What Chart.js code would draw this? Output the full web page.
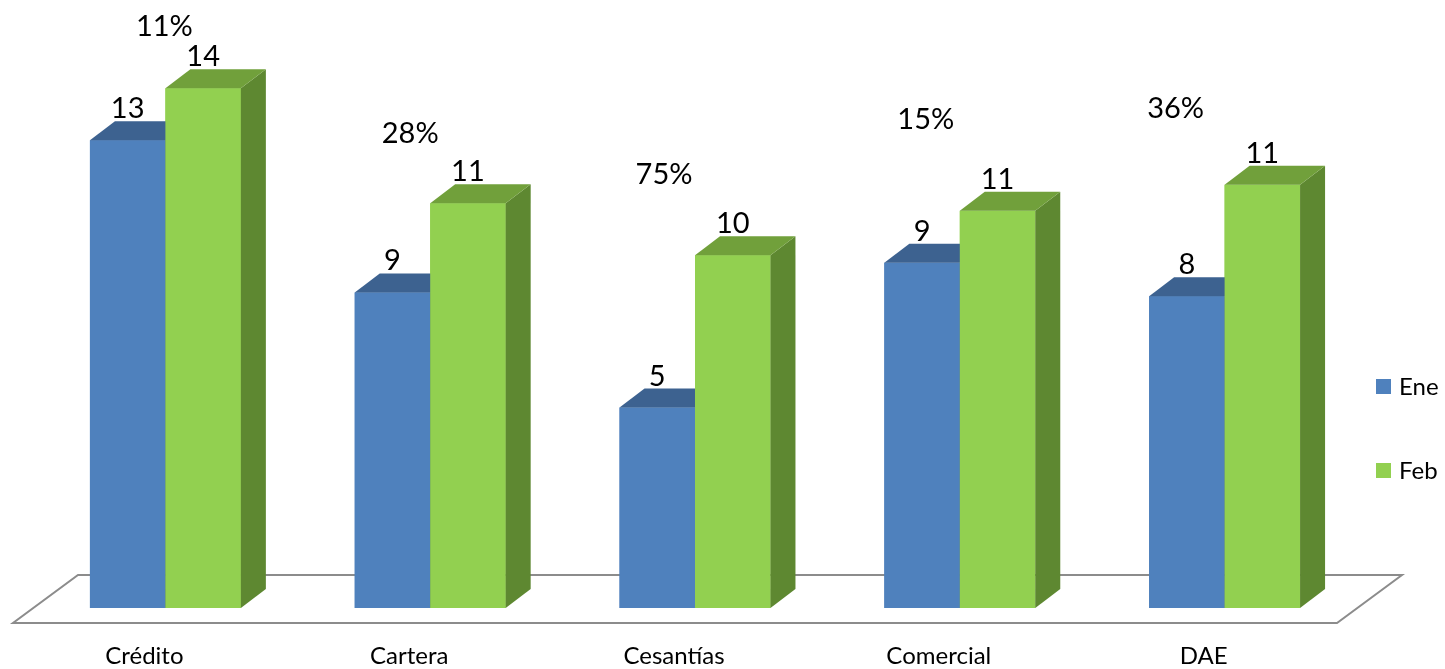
<!DOCTYPE html>
<html>
<head>
<meta charset="utf-8">
<script src="https://cdn.jsdelivr.net/npm/chart.js@4.4.1/dist/chart.umd.min.js"></script>
<style>
  html, body { margin: 0; padding: 0; background: #ffffff; }
  #wrap { width: 1445px; height: 669px; }
</style>
</head>
<body>
<div id="wrap"><canvas id="grafico"></canvas></div>
<script>
// Datos
const categorias = ['Crédito', 'Cartera', 'Cesantías', 'Comercial', 'DAE'];
const valoresEne = [12.6, 8.5, 5.4, 9.3, 8.4];
const valoresFeb = [14.0, 10.9, 9.5, 10.7, 11.4];
const etiquetasEne = ['13', '9', '5', '9', '8'];
const etiquetasFeb = ['14', '11', '10', '11', '11'];
const variacion = ['11%', '28%', '75%', '15%', '36%'];

// Ubicación de los textos de variación (px respecto al centro del grupo y a la barra Feb)
const varDx = [-1, -20, -31, -34, -49];
const varDy = [52, 60, 71, 82, 67];

const FUENTE = 'Lato, "Open Sans", sans-serif';
const colores = {
    Ene: { frente: '#4F81BD', techo: '#3D6290', lado: '#38597F' },
    Feb: { frente: '#92D050', techo: '#71A03B', lado: '#5E8831' }
};
const PROF_X = 25, PROF_Y = -19;

// ================= PLUGIN 3D (piso, caras, etiquetas, leyenda) =================
const efecto3D = {
    id: 'efecto3D',
    beforeDatasetsDraw(chart) {
        const { ctx, chartArea } = chart;
        const yFrente = chartArea.bottom + 15;
        const izq = chartArea.left - 20, der = chartArea.right - 20;
        ctx.save();
        ctx.strokeStyle = '#8C8C8C';
        ctx.lineWidth = 2;
        ctx.beginPath();
        ctx.moveTo(izq, yFrente);
        ctx.lineTo(der, yFrente);
        ctx.lineTo(der + 65, yFrente - 48);
        ctx.lineTo(izq + 65, yFrente - 48);
        ctx.closePath();
        ctx.stroke();
        ctx.restore();
    },
    afterDatasetsDraw(chart) {
        const { ctx, chartArea } = chart;
        const metas = [chart.getDatasetMeta(0), chart.getDatasetMeta(1)];
        const nombres = ['Ene', 'Feb'];
        const etiquetas = [etiquetasEne, etiquetasFeb];

        ctx.save();
        categorias.forEach((cat, i) => {
            metas.forEach((meta, d) => {
                const barra = meta.data[i];
                const c = colores[nombres[d]];
                const izq = barra.x - barra.width / 2;
                const der = barra.x + barra.width / 2;
                const y = barra.y, base = barra.base;

                ctx.fillStyle = c.frente;
                ctx.fillRect(izq, y, der - izq, base - y);

                ctx.fillStyle = c.lado;
                ctx.beginPath();
                ctx.moveTo(der, y);
                ctx.lineTo(der + PROF_X, y + PROF_Y);
                ctx.lineTo(der + PROF_X, base + PROF_Y);
                ctx.lineTo(der, base);
                ctx.closePath();
                ctx.fill();

                ctx.fillStyle = c.techo;
                ctx.beginPath();
                ctx.moveTo(izq, y);
                ctx.lineTo(der, y);
                ctx.lineTo(der + PROF_X, y + PROF_Y);
                ctx.lineTo(izq + PROF_X, y + PROF_Y);
                ctx.closePath();
                ctx.fill();
            });
        });

        // etiquetas de valor
        ctx.fillStyle = '#000000';
        ctx.font = '29px ' + FUENTE;
        ctx.textAlign = 'center';
        ctx.textBaseline = 'alphabetic';
        metas.forEach((meta, d) => {
            meta.data.forEach((barra, i) => {
                ctx.fillText(etiquetas[d][i], barra.x, barra.y + PROF_Y - 3);
            });
        });

        // variación porcentual
        const escalaX = chart.scales.x;
        variacion.forEach((txt, i) => {
            const cx = escalaX.getPixelForValue(i) + varDx[i];
            const yFeb = metas[1].data[i].y;
            ctx.fillText(txt, cx, yFeb - varDy[i]);
        });

        // leyenda
        ctx.textAlign = 'left';
        ctx.textBaseline = 'middle';
        ctx.font = '24px ' + FUENTE;
        nombres.forEach((n, d) => {
            const yc = 387 + d * 84;
            ctx.fillStyle = colores[n].frente;
            ctx.fillRect(chartArea.right + 19, yc - 8, 15, 15);
            ctx.fillStyle = '#000000';
            ctx.fillText(n, chartArea.right + 42, yc);
        });
        ctx.restore();
    }
};

// ================= GRÁFICO =================
const ctx = document.getElementById('grafico').getContext('2d');
const grafico = new Chart(ctx, {
    type: 'bar',
    data: {
        labels: categorias,
        datasets: [
            { label: 'Ene', data: valoresEne, backgroundColor: colores.Ene.frente, borderWidth: 0 },
            { label: 'Feb', data: valoresFeb, backgroundColor: colores.Feb.frente, borderWidth: 0 }
        ]
    },
    options: {
        responsive: true,
        maintainAspectRatio: false,
        animation: false,
        layout: { padding: { left: 33, right: 88, top: 14, bottom: 0 } },
        datasets: { bar: { categoryPercentage: 0.57, barPercentage: 1.0 } },
        scales: {
            y: { display: false, min: 0, max: 16 },
            x: {
                grid: { display: false, drawTicks: false },
                border: { display: false },
                afterFit: (eje) => { eje.height = 61; },
                ticks: {
                    color: '#000000',
                    font: { family: FUENTE, size: 24 },
                    padding: 34,
                    labelOffset: -21,
                    maxRotation: 0
                }
            }
        },
        plugins: { legend: { display: false }, tooltip: { enabled: false } }
    },
    plugins: [efecto3D]
});
</script>
</body>
</html>
